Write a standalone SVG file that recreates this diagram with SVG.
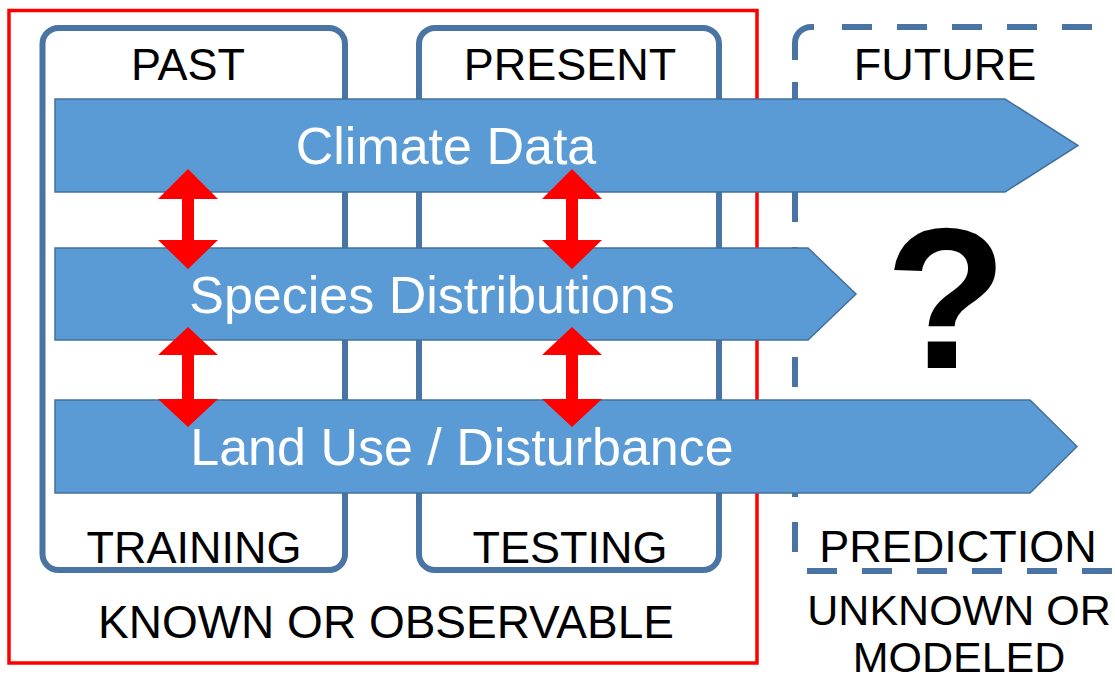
<svg xmlns="http://www.w3.org/2000/svg" width="1115" height="679" viewBox="0 0 1115 679">
<style>
.lbl{font-family:"Liberation Sans",Arial,sans-serif;font-size:45px;fill:#000;text-anchor:middle}
.bar{fill:#5b9bd5;stroke:#41719c;stroke-width:1.5}
.bartxt{font-family:"Liberation Sans",Arial,sans-serif;font-size:52px;fill:#fff;text-anchor:middle}
.box{fill:#fff;stroke:#4a74a3;stroke-width:6}
.dash{fill:none;stroke:#4a74a3;stroke-width:6;stroke-dasharray:30 25}
.dbl{fill:#ff0000}
</style>
<rect width="1115" height="679" fill="#fff"/>
<g id="known-region">
<rect x="9" y="10.5" width="748" height="652.5" fill="none" stroke="#ff0000" stroke-width="3.5"/>
<text class="lbl" x="386" y="638" style="font-size:46px">KNOWN OR OBSERVABLE</text>
</g>
<g id="past">
<rect class="box" x="42.5" y="28" width="302.5" height="542" rx="16"/>
<text class="lbl" x="188" y="80">PAST</text>
<text class="lbl" x="194" y="563">TRAINING</text>
</g>
<g id="present">
<rect class="box" x="419" y="28" width="300" height="542" rx="16"/>
<text class="lbl" x="570" y="80">PRESENT</text>
<text class="lbl" x="570" y="563">TESTING</text>
</g>
<g id="future">
<path d="M795 60 L795 43 A16 16 0 0 1 811 27 L814 27" fill="none" stroke="#4a74a3" stroke-width="6"/>
<line class="dash" x1="842" y1="27" x2="1130" y2="27"/>
<line class="dash" x1="795" y1="82" x2="795" y2="560"/>
<line class="dash" x1="807" y1="571" x2="1130" y2="571"/>
<text class="lbl" x="945" y="80">FUTURE</text>
<text class="lbl" x="958" y="562">PREDICTION</text>
<text style="font-family:'Liberation Sans',Arial,sans-serif;font-weight:bold;font-size:200px;fill:#000;text-anchor:middle" x="946" y="368">?</text>
<text class="lbl" x="959" y="625" style="font-size:43px">UNKNOWN OR</text>
<text class="lbl" x="959" y="672" style="font-size:43px">MODELED</text>
</g>
<g id="climate-data">
<polygon class="bar" points="55,99 1005,99 1078,145.5 1005,192 55,192"/>
<text class="bartxt" x="446" y="164">Climate Data</text>
</g>
<g id="species-distributions">
<polygon class="bar" points="55,248 808,248 856,294 808,340 55,340"/>
<text class="bartxt" x="432" y="313">Species Distributions</text>
</g>
<g id="land-use">
<polygon class="bar" points="55,400 1030,400 1077,446.5 1030,493 55,493"/>
<text class="bartxt" x="462" y="465">Land Use / Disturbance</text>
</g>
<g id="connectors">
<polygon class="dbl" points="188,169 158,199 182,199 182,240 158,240 188,269 218,240 194,240 194,199 218,199"/>
<polygon class="dbl" points="572,169 542,199 566,199 566,240 542,240 572,269 602,240 578,240 578,199 602,199"/>
<polygon class="dbl" points="188,327 158,355 182,355 182,399 158,399 188,427 218,399 194,399 194,355 218,355"/>
<polygon class="dbl" points="572,327 542,355 566,355 566,399 542,399 572,427 602,399 578,399 578,355 602,355"/>
</g>
</svg>
